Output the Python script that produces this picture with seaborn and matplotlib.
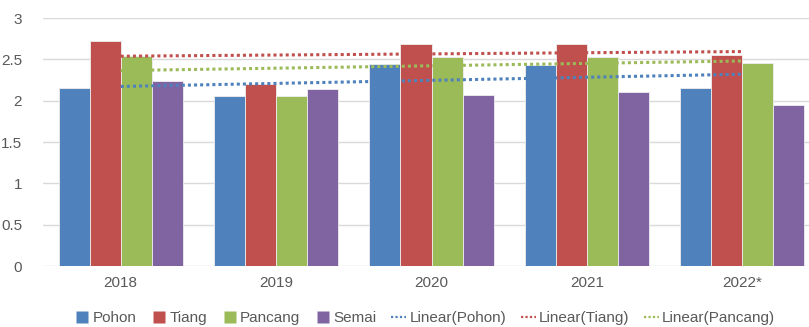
import numpy as np
import pandas as pd
import matplotlib
matplotlib.use("Agg")
import matplotlib.pyplot as plt
import seaborn as sns
from matplotlib.lines import Line2D

years = ["2018", "2019", "2020", "2021", "2022*"]
series_names = ["Pohon", "Tiang", "Pancang", "Semai"]
pohon = [2.15, 2.06, 2.44, 2.43, 2.15]
tiang = [2.72, 2.20, 2.68, 2.68, 2.55]
pancang = [2.54, 2.06, 2.53, 2.53, 2.45]
semai = [2.24, 2.14, 2.07, 2.10, 1.95]
trend_series = ["Pohon", "Tiang", "Pancang"]
y_ticks = [0, 0.5, 1, 1.5, 2, 2.5, 3]
y_tick_labels = ["0", "0.5", "1", "1.5", "2", "2.5", "3"]

colors = {"Pohon": "#4F81BD", "Tiang": "#C0504D", "Pancang": "#9BBB59", "Semai": "#8064A2"}

values = {"Pohon": pohon, "Tiang": tiang, "Pancang": pancang, "Semai": semai}
rows = []
for s in series_names:
    for y, v in zip(years, values[s]):
        rows.append({"year": y, "series": s, "value": v})
df = pd.DataFrame(rows)

sns.set_theme(style="white")
plt.rcParams["font.family"] = ["Liberation Sans", "DejaVu Sans"]

fig = plt.figure(figsize=(8.09, 3.27), dpi=100)
W, H = 809, 327
ax = fig.add_axes([43 / W, 61 / H, 777 / W, 248 / H])

sns.barplot(data=df, x="year", y="value", hue="series", order=years,
            hue_order=series_names, palette=colors, width=0.8, saturation=1,
            edgecolor="#eeeeee", linewidth=0.6, ax=ax, legend=False, zorder=2)

xs = np.arange(len(years))
for s in trend_series:
    k, b = np.polyfit(xs, values[s], 1)
    ax.plot(xs, k * xs + b, linestyle=(0, (1, 1)), linewidth=2.2,
            color=colors[s], zorder=3)

ax.set_ylim(0, 3)
ax.set_xlim(-0.5, len(years) - 0.5)
ax.set_yticks(y_ticks)
ax.set_yticklabels(y_tick_labels)
ax.yaxis.grid(True, color="#D9D9D9", linewidth=1)
ax.set_axisbelow(True)
for sp in ax.spines.values():
    sp.set_visible(False)
ax.set_xlabel("")
ax.set_ylabel("")
ax.tick_params(axis="x", length=0, pad=7, labelsize=11, labelcolor="#595959")
ax.tick_params(axis="y", length=0, pad=15, labelsize=11, labelcolor="#595959")

handles = [Line2D([0], [0], marker="s", markersize=8.5, linestyle="none",
                  markerfacecolor=colors[s], markeredgecolor="none", label=s)
           for s in series_names]
handles += [Line2D([0], [0], color=colors[s], linestyle=(0, (1, 1)), linewidth=1.6,
                   label=f"Linear({s})") for s in trend_series]
fig.legend(handles=handles, loc="center", bbox_to_anchor=(425 / W, 1 - 318 / H),
           ncol=7, frameon=False, fontsize=11, handlelength=1.0,
           handletextpad=0.2, columnspacing=0.95, labelcolor="#595959")

fig.savefig("out.png", dpi=100)
